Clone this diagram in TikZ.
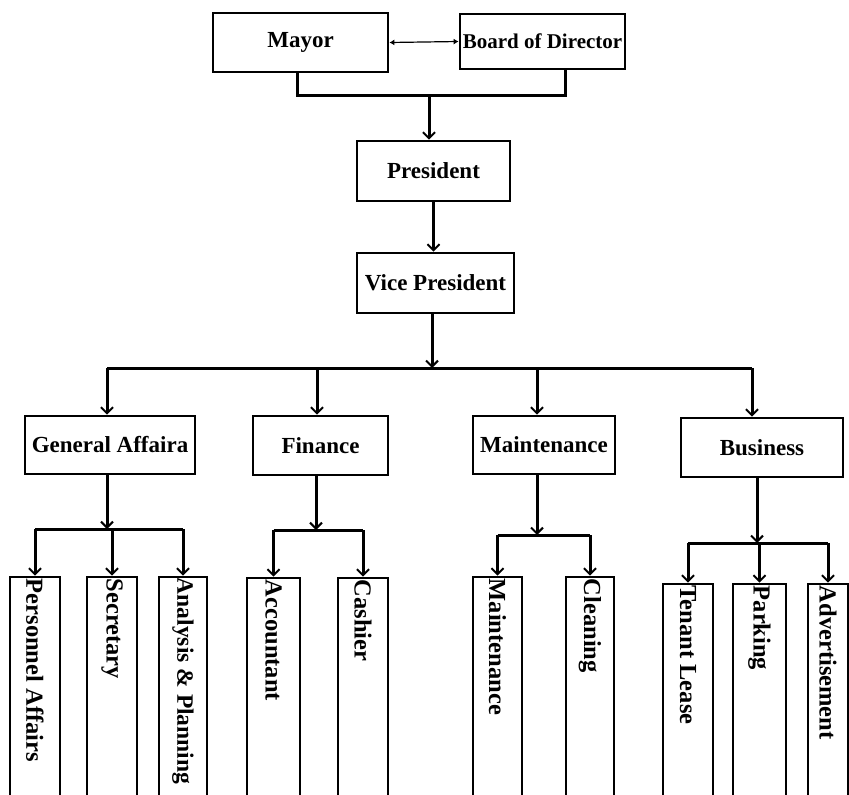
\documentclass[tikz,border=0pt]{standalone}
\usepackage{fontspec}
\setmainfont{Liberation Serif}
\usetikzlibrary{arrows.meta}
\begin{document}
\begin{tikzpicture}[x=1pt,y=-1pt,
  box/.style={draw, line width=2.8pt, inner sep=0pt, font=\bfseries\fontsize{23}{25}\selectfont},
  col/.style={draw, line width=2.8pt, inner sep=0pt, minimum height=260pt},
  vlabel/.style={rotate=-90, anchor=west, inner sep=0pt, font=\bfseries\fontsize{24.5}{26}\selectfont},
  link/.style={line width=3pt},
  arr/.style={link, -{Straight Barb[length=6pt,width=12pt,line width=2pt]}},
  twin/.style={line width=1.2pt, {Latex[length=5pt,width=6pt]}-{Latex[length=5pt,width=6pt]}},
]
\useasboundingbox (0,0) rectangle (849,795);
\clip (0,0) rectangle (849,795);

% top level
\node[box, minimum width=175pt, minimum height=59pt] (mayor) at (300.5,42.5) {Mayor};
\node[box, minimum width=165pt, minimum height=55pt, font=\bfseries\fontsize{21}{23}\selectfont] (board) at (542.5,41.5) {Board of Director};
\node[box, minimum width=153pt, minimum height=60pt] (pres) at (433.5,171) {President};
\node[box, minimum width=157pt, minimum height=60pt] (vp) at (435.5,283) {Vice President};

% departments
\node[box, minimum width=170pt, minimum height=58pt] (ga) at (110,445) {General Affaira};
\node[box, minimum width=135pt, minimum height=59pt] (fin) at (320.5,445.5) {Finance};
\node[box, minimum width=142pt, minimum height=58pt] (mnt) at (544,445) {Maintenance};
\node[box, minimum width=162pt, minimum height=59pt] (bus) at (762,447.5) {Business};

% sections (tall columns running off the page)
\node[col, minimum width=50pt] (pa)  at (35,707)    {};
\node[col, minimum width=50pt] (sec) at (112,707)   {};
\node[col, minimum width=48pt] (ap)  at (183,707)   {};
\node[col, minimum width=53pt] (acc) at (273.5,708) {};
\node[col, minimum width=50pt] (cas) at (363,708)   {};
\node[col, minimum width=49pt] (mch) at (497.5,707) {};
\node[col, minimum width=48pt] (cln) at (590,707)   {};
\node[col, minimum width=50pt] (tl)  at (688,714)   {};
\node[col, minimum width=53pt] (prk) at (759.5,714) {};
\node[col, minimum width=40pt] (adv) at (828,714)   {};

\node[vlabel] (pa-t)  at ([yshift=-3pt]pa.north)  {Personnel Affairs};
\node[vlabel] (sec-t) at ([yshift=-3pt]sec.north) {Secretary};
\node[vlabel, font=\bfseries\fontsize{23.5}{25}\selectfont] (ap-t) at ([yshift=-2pt]ap.north) {Analysis \& Planning};
\node[vlabel] (acc-t) at ([yshift=-3pt]acc.north) {Accountant};
\node[vlabel] (cas-t) at ([yshift=-3pt]cas.north) {Cashier};
\node[vlabel] (mch-t) at ([yshift=-3pt]mch.north) {Maintenance};
\node[vlabel] (cln-t) at ([yshift=-3pt]cln.north) {Cleaning};
\node[vlabel] (tl-t)  at ([yshift=-3pt]tl.north)  {Tenant Lease};
\node[vlabel] (prk-t) at ([yshift=-3pt]prk.north) {Parking};
\node[vlabel] (adv-t) at ([yshift=-3pt]adv.north) {Advertisement};

% mayor and board
\draw[twin] (mayor.east) -- (board.west);
\coordinate (mj) at (297,95);
\coordinate (bj) at (565,95);
\coordinate (tj) at (429,95);
\draw[link] (mayor.south -| mj) -- (mj) -- (bj) -- (board.south -| bj);
\draw[arr] (tj) -- (pres.north -| tj);
\draw[arr] (pres.south) -- (pres.south |- vp.north);

% vice president to departments
\coordinate (dj) at (432,368);
\coordinate (ga-in)  at (107,368);
\coordinate (fin-in) at (317,368);
\coordinate (mnt-in) at (537,368);
\coordinate (bus-in) at (752,368);
\draw[arr] (vp.south -| dj) -- (dj);
\draw[link] (ga-in) -- (bus-in);
\draw[arr] (ga-in) -- (ga.north -| ga-in);
\draw[arr] (fin-in) -- (fin.north -| fin-in);
\draw[arr] (mnt-in) -- (mnt.north -| mnt-in);
\draw[arr] (bus-in) -- (bus.north -| bus-in);

% general affairs
\coordinate (gaj) at (107,529);
\draw[arr] (ga.south -| gaj) -- (gaj);
\draw[link] (pa.north |- gaj) -- (ap.north |- gaj);
\foreach \c in {pa,sec,ap} \draw[arr] (\c.north |- gaj) -- (\c.north);

% finance
\coordinate (finj) at (316,530);
\draw[arr] (fin.south -| finj) -- (finj);
\draw[link] (acc.north |- finj) -- (cas.north |- finj);
\foreach \c in {acc,cas} \draw[arr] (\c.north |- finj) -- (\c.north);

% maintenance
\coordinate (mntj) at (537,535);
\draw[arr] (mnt.south -| mntj) -- (mntj);
\draw[link] (mch.north |- mntj) -- (cln.north |- mntj);
\foreach \c in {mch,cln} \draw[arr] (\c.north |- mntj) -- (\c.north);

% business
\coordinate (busj) at (757,543);
\draw[arr] (bus.south -| busj) -- (busj);
\draw[link] (tl.north |- busj) -- (adv.north |- busj);
\foreach \c in {tl,prk,adv} \draw[arr] (\c.north |- busj) -- (\c.north);
\end{tikzpicture}
\end{document}
